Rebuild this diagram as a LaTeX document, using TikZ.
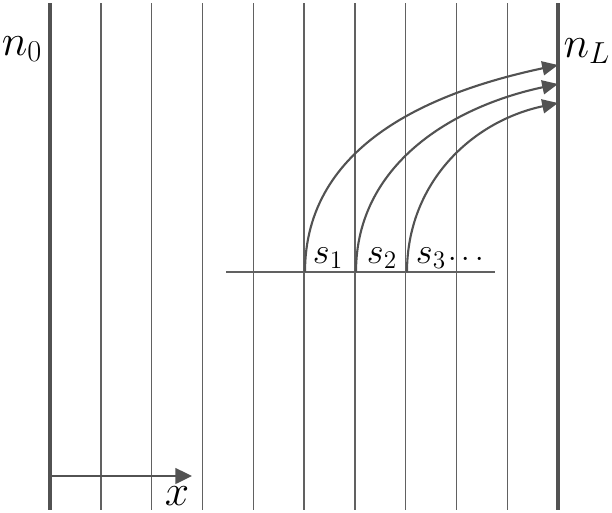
\documentclass[tikz,border=0pt]{standalone}
\usetikzlibrary{arrows.meta}
\begin{document}
\begin{tikzpicture}[x=0.02cm,y=-0.02cm,
    grid/.style={draw=black!62,line width=0.8pt},
    wall/.style={draw=black!68,line width=1.8pt},
    ray/.style={draw=black!68,line width=1.2pt,-{Triangle[length=9pt,width=8pt]}},
    lbl/.style={inner sep=0pt,font=\fontsize{22}{24}\selectfont}]
  \useasboundingbox (0,0) rectangle (612,512);
  % thin layers
  \foreach \i in {1,...,9} {
    \coordinate (t\i) at (50+50.8*\i,3);
    \coordinate (b\i) at (50+50.8*\i,510);
    \draw[grid] (t\i) -- (b\i);
  };
  % walls
  \coordinate (t0) at (50,3);
  \coordinate (b0) at (50,510);
  \coordinate (t10) at (558,3);
  \coordinate (b10) at (558,510);
  \draw[wall] (t0) -- (b0);
  \draw[wall] (t10) -- (b10);
  \node[lbl,font=\fontsize{26}{28}\selectfont] (n0) at (22,49) {$n_0$};
  \node[lbl,font=\fontsize{26}{28}\selectfont] (nL) at (587,51) {$n_L$};
  % sources
  \coordinate (h1) at (226,272);
  \coordinate (h2) at (495,272);
  \draw[grid,line width=1pt] (h1) -- (h2);
  \coordinate (s1) at (305,272);
  \coordinate (s2) at (356,272);
  \coordinate (s3) at (407,272);
  \coordinate (e1) at (558,65);
  \coordinate (e2) at (558,84);
  \coordinate (e3) at (558,103);
  \foreach \i in {1,2,3} {
    \draw[ray] (s\i) to[out=90,in=192] (e\i);
  };
  \node[lbl] (l1) at (328,258) {$s_1$};
  \node[lbl] (l2) at (382,258) {$s_2$};
  \node[lbl] (l3) at (431,258) {$s_3$};
  \node[lbl,font=\fontsize{18}{20}\selectfont] (l4) at (466,260) {$\cdots$};
  % axis
  \coordinate (x0) at (50,476);
  \coordinate (x1) at (192,476);
  \draw[ray,-{Triangle[length=9.5pt,width=9pt]}] (x0) -- (x1);
  \node[lbl,font=\fontsize{26}{28}\selectfont] (xl) at (177,496) {$x$};
\end{tikzpicture}
\end{document}
